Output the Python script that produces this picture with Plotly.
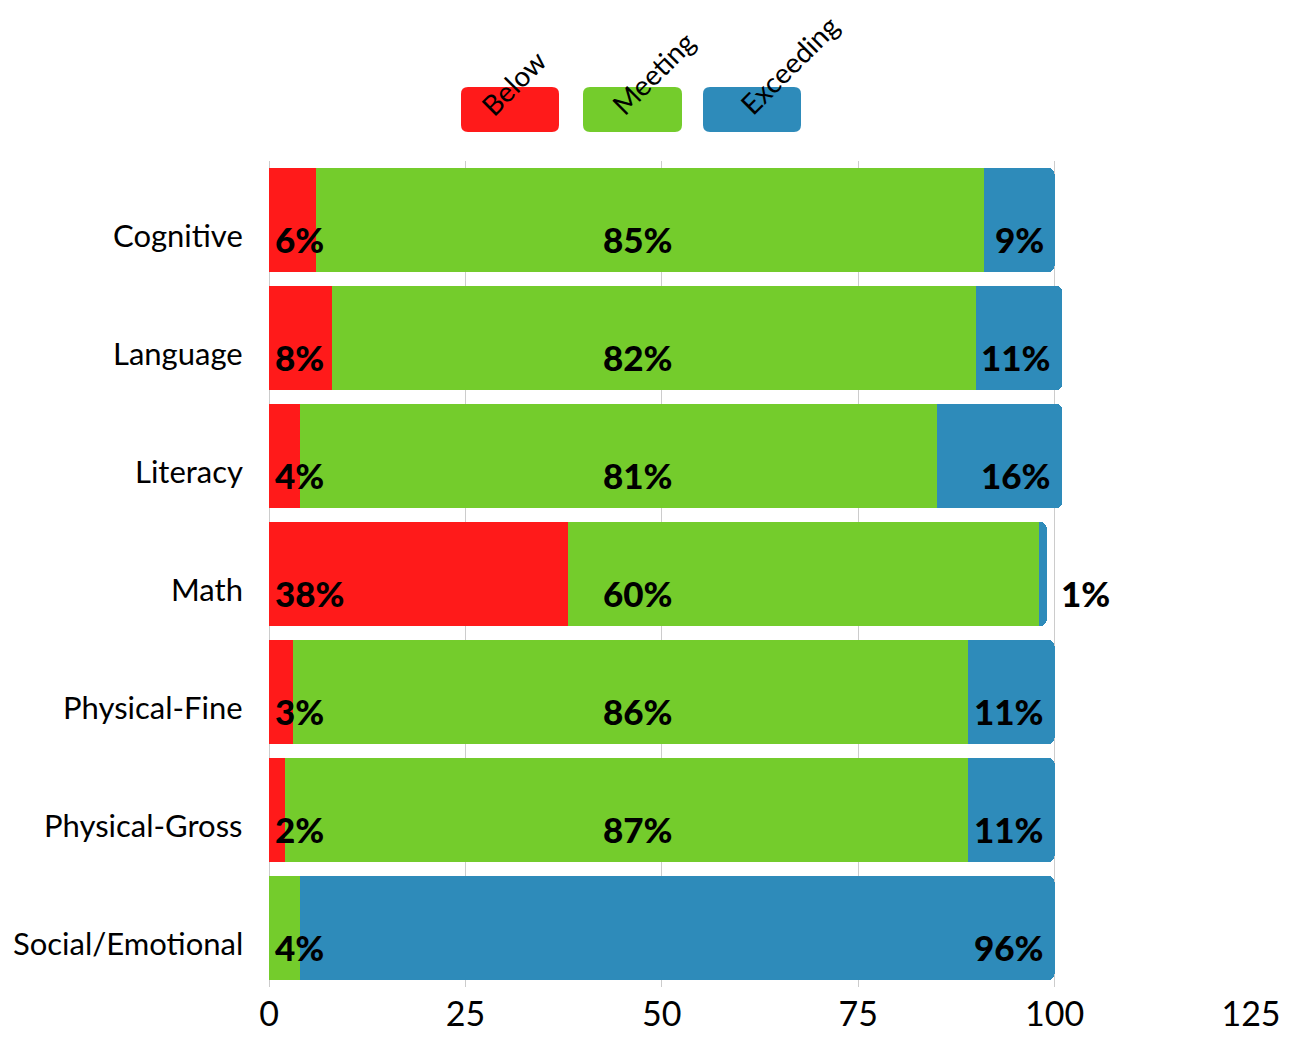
import plotly.graph_objects as go

categories = ["Cognitive", "Language", "Literacy", "Math", "Physical-Fine",
              "Physical-Gross", "Social/Emotional"]
below = [6, 8, 4, 38, 3, 2, 0]
meeting = [85, 82, 81, 60, 86, 87, 4]
exceeding = [9, 11, 16, 1, 11, 11, 96]
series_names = ["Below", "Meeting", "Exceeding"]
series_values = [below, meeting, exceeding]
colors = ["#ff1a1a", "#74cc2c", "#2e8bba"]
x_ticks = [0, 25, 50, 75, 100, 125]

FONT = "Lato"
MID_LABEL_X = 47

fig = go.Figure()
for name, vals, col in zip(series_names, series_values, colors):
    fig.add_trace(go.Bar(
        y=categories, x=vals, name=name, orientation="h",
        marker=dict(color=col, line=dict(width=0)),
        hoverinfo="x+name", showlegend=False,
    ))

annotations = []
lab_font = dict(family=FONT, size=35, color="black", weight=900)
for i, cat in enumerate(categories):
    vals = [s[i] for s in series_values]
    nonzero = [k for k, v in enumerate(vals) if v > 0]
    start = 0
    for k, v in enumerate(vals):
        if v > 0:
            txt = f"{v}%"
            if k == nonzero[0]:
                x, xa, xs = start, "left", 4
            elif k == nonzero[-1]:
                if v < 3:
                    x, xa, xs = start + v, "left", 12
                else:
                    x, xa, xs = start + v, "right", -9
            else:
                x, xa, xs = MID_LABEL_X, "center", 0
            annotations.append(dict(
                x=x, y=cat, xref="x", yref="y", text=txt, showarrow=False,
                xanchor=xa, yanchor="middle", xshift=xs, yshift=-19,
                font=lab_font,
            ))
        start += v

# page body has an 8px margin; work in reference pixel coords and offset
OFF = 8
W, H = 1290 - 2 * OFF, 1043 - 2 * OFF
L, R, T, B = 269 - OFF, 1290 - 1251 - OFF, 161 - OFF, 1043 - 987 - OFF
pw, ph = W - L - R, H - T - B


def px_to_paper(px, py):
    return (px - OFF - L) / pw, (H - B - (py - OFF)) / ph


# category labels (offset slightly below bar centre, as in reference)
for cat in categories:
    annotations.append(dict(
        x=0, y=cat, xref="paper", yref="y", text=cat, showarrow=False,
        xanchor="right", yanchor="middle", xshift=-24, yshift=-15,
        font=dict(family=FONT, size=31, color="black"),
    ))

legend_boxes = [(461, 559), (583, 682), (703, 801)]
box_top, box_bot = 87, 132
label_centers = [(513, 83), (653, 73), (789, 65)]
shapes = []
r = 7
for (x0, x1), col, name, (cx, cy) in zip(legend_boxes, colors, series_names, label_centers):
    w, h = x1 - x0, box_bot - box_top
    ax, ay = px_to_paper(x0, box_bot)
    path = (f"M {r},0 L {w - r},0 Q {w},0 {w},{r} L {w},{h - r} Q {w},{h} {w - r},{h} "
            f"L {r},{h} Q 0,{h} 0,{h - r} L 0,{r} Q 0,0 {r},0 Z")
    shapes.append(dict(type="path", xref="paper", yref="paper",
                       xsizemode="pixel", ysizemode="pixel",
                       xanchor=ax, yanchor=ay, path=path,
                       fillcolor=col, line=dict(width=0), layer="above"))
    tx, ty = px_to_paper(cx, cy)
    annotations.append(dict(x=tx, y=ty, xref="paper", yref="paper", text=name,
                            showarrow=False, textangle=-45, xanchor="center",
                            yanchor="middle",
                            font=dict(family=FONT, size=28, color="black")))

fig.update_layout(
    width=W, height=H,
    barmode="stack", bargap=0.12, barcornerradius=6,
    plot_bgcolor="white", paper_bgcolor="white",
    margin=dict(l=L, r=R, t=T, b=B, autoexpand=False),
    font=dict(family=FONT, color="black"),
    xaxis=dict(range=[0, 125], tickvals=x_ticks, showgrid=True,
               gridcolor="#cccccc", gridwidth=1, zeroline=True,
               zerolinecolor="#cccccc", zerolinewidth=1, showline=False,
               ticks="", tickfont=dict(family=FONT, size=34, color="black"),
               ticklabelstandoff=4, ticklabeloverflow="allow",
               fixedrange=True),
    yaxis=dict(categoryorder="array", categoryarray=categories,
               autorange="reversed", showgrid=False, zeroline=False,
               ticks="", showticklabels=False, fixedrange=True),
    annotations=annotations, shapes=shapes,
)

fig.write_html("out.html")
